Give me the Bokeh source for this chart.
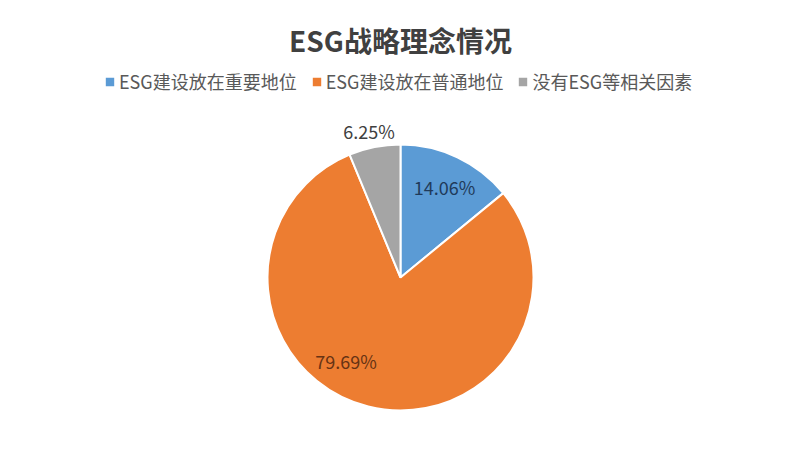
import math
from bokeh.plotting import figure
from bokeh.models import Range1d, Legend, LegendItem
from bokeh.core.properties import value
from bokeh.embed import file_html
from bokeh.resources import INLINE

# ---- data ----
categories = ["ESG建设放在重要地位", "ESG建设放在普通地位", "没有ESG等相关因素"]
shares = [14.06, 79.69, 6.25]
labels = ["14.06%", "79.69%", "6.25%"]
title_text = "ESG战略理念情况"

# ---- style ----
colors = ["#5B9BD5", "#ED7D31", "#A5A5A5"]
label_colors = ["#1F3A5A", "#673314", "#404040"]
FONT = "Noto Sans CJK SC"
W, H = 784, 434

p = figure(width=W, height=H, output_backend="svg", toolbar_location=None,
           x_range=Range1d(0, W), y_range=Range1d(450 - H, 450),
           min_border=0)
p.axis.visible = False
p.grid.visible = False
p.outline_line_color = None
p.background_fill_color = "white"

cx, cy, R = 400, 450 - 277, 133

# wedge angles, clockwise from 12 o'clock
total = sum(shares)
starts, ends = [], []
acc = 0.0
for s in shares:
    a0 = math.pi / 2 - acc / total * 2 * math.pi
    acc += s
    a1 = math.pi / 2 - acc / total * 2 * math.pi
    starts.append(a0)
    ends.append(a1)

renderers = []
for i in range(len(shares)):
    r = p.wedge(x=cx, y=cy, radius=R, start_angle=starts[i], end_angle=ends[i],
                direction="clock", fill_color=colors[i], line_color="white", line_width=2)
    renderers.append(r)

# label placement (radial fraction, angle offset in degrees)
lab_frac = [0.76, 0.75, 1.13]
lab_off = [-0.5, -19.0, 0.8]
lx, ly = [], []
for i in range(len(shares)):
    mid = (starts[i] + ends[i]) / 2 + math.radians(lab_off[i])
    lx.append(cx + R * lab_frac[i] * math.cos(mid))
    ly.append(cy + R * lab_frac[i] * math.sin(mid))
p.text(x=lx, y=ly, text=labels, text_font=value(FONT), text_font_size="18px",
       text_color=label_colors, text_align="center", text_baseline="middle")

# title
p.text(x=[400], y=[450 - 39], text=[title_text], text_font=value(FONT),
       text_font_size="28px", text_font_style="bold", text_color="#404040",
       text_align="center", text_baseline="middle")

legend = Legend(items=[LegendItem(label=categories[i], renderers=[renderers[i]]) for i in range(3)],
                orientation="horizontal", location=(103, 340), padding=0, margin=0,
                spacing=13, label_standoff=3, glyph_width=13, glyph_height=13,
                label_text_font=FONT, label_text_font_size="18px",
                label_text_color="#595959", border_line_color=None,
                background_fill_alpha=0)
p.add_layout(legend, "center")

open("out.html", "w").write(file_html(p, INLINE))
